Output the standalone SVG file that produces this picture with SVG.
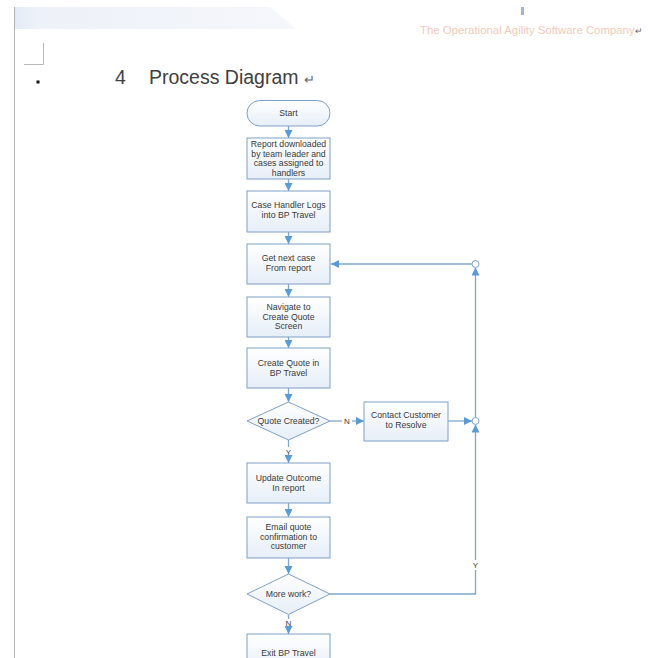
<svg xmlns="http://www.w3.org/2000/svg" width="649" height="658" viewBox="0 0 649 658">
<defs>
<linearGradient id="band" x1="0" y1="0" x2="1" y2="0">
<stop offset="0" stop-color="#e4ebf6"/>
<stop offset="0.08" stop-color="#edf1f8"/>
<stop offset="1" stop-color="#f5f7fb"/>
</linearGradient>
<linearGradient id="boxfill" x1="0" y1="0" x2="0" y2="1">
<stop offset="0" stop-color="#ffffff"/>
<stop offset="1" stop-color="#e6eef8"/>
</linearGradient>
<marker id="arr" viewBox="0 0 10 10" refX="10" refY="5" markerWidth="8" markerHeight="8" markerUnits="userSpaceOnUse" orient="auto">
<path d="M0,0 L10,5 L0,10 z" fill="#5b9bd5"/>
</marker>
<style>
.node{fill:url(#boxfill);stroke:#7f9fc8;stroke-width:1}
.lbl{font-family:"Liberation Sans",Arial,sans-serif;font-size:8.7px;fill:#3a3a3a;text-anchor:middle}
.edge{fill:none;stroke:#7fa6cf;stroke-width:1.3}
.yn{font-family:"Liberation Sans",Arial,sans-serif;font-size:8px;fill:#3a3a3a;text-anchor:middle}
</style>
</defs>
<rect width="649" height="658" fill="#ffffff"/>
<path d="M14,7 L270,7 L296,29 L14,29 z" fill="url(#band)"/>
<line x1="14.5" y1="7" x2="14.5" y2="658" stroke="#b4b4b4" stroke-width="1"/>
<polyline points="43.5,43 43.5,64.5 24,64.5" fill="none" stroke="#b8b8b8" stroke-width="1"/>
<rect x="36.5" y="80.5" width="3" height="3" fill="#111"/>
<rect x="521" y="7" width="3" height="8" fill="#9ab6da"/>
<text x="420" y="34" font-family="Liberation Sans,Arial,sans-serif" font-size="11.4px" fill="#f5c9b8">The Operational Agility Software Company<tspan fill="#666" font-size="9px">↵</tspan></text>
<text x="115" y="84" font-family="Liberation Sans,Arial,sans-serif" font-size="19.5px" fill="#404040">4</text>
<text x="149" y="84" font-family="Liberation Sans,Arial,sans-serif" font-size="19.5px" fill="#404040">Process Diagram <tspan font-size="13px" fill="#666">↵</tspan></text>

<g id="connectors">
<line class="edge" x1="288.5" y1="126" x2="288.5" y2="138" marker-end="url(#arr)"/>
<line class="edge" x1="288.5" y1="179" x2="288.5" y2="191" marker-end="url(#arr)"/>
<line class="edge" x1="288.5" y1="232" x2="288.5" y2="244" marker-end="url(#arr)"/>
<line class="edge" x1="288.5" y1="284" x2="288.5" y2="297" marker-end="url(#arr)"/>
<line class="edge" x1="288.5" y1="337" x2="288.5" y2="348" marker-end="url(#arr)"/>
<line class="edge" x1="288.5" y1="388" x2="288.5" y2="402" marker-end="url(#arr)"/>
<line class="edge" x1="288.5" y1="440" x2="288.5" y2="447"/>
<line class="edge" x1="288.5" y1="456" x2="288.5" y2="463" marker-end="url(#arr)"/>
<line class="edge" x1="288.5" y1="503" x2="288.5" y2="517" marker-end="url(#arr)"/>
<line class="edge" x1="288.5" y1="558" x2="288.5" y2="574" marker-end="url(#arr)"/>
<line class="edge" x1="288.5" y1="615" x2="288.5" y2="619"/>
<line class="edge" x1="288.5" y1="627" x2="288.5" y2="634" marker-end="url(#arr)"/>
<line class="edge" x1="330" y1="421" x2="342" y2="421"/>
<line class="edge" x1="352" y1="421" x2="364" y2="421" marker-end="url(#arr)"/>
<line class="edge" x1="448" y1="421" x2="472" y2="421" marker-end="url(#arr)"/>
<polyline class="edge" points="330,594 475.5,594 475.5,570"/>
<line class="edge" x1="475.5" y1="560" x2="475.5" y2="424.5" marker-end="url(#arr)"/>
<line class="edge" x1="475.5" y1="417.5" x2="475.5" y2="267.5" marker-end="url(#arr)"/>
<line class="edge" x1="472" y1="264" x2="331" y2="264" marker-end="url(#arr)"/>
<circle cx="475.5" cy="264" r="3.5" fill="#fff" stroke="#7fa6cf" stroke-width="1"/>
<circle cx="475.5" cy="421" r="3.5" fill="#fff" stroke="#7fa6cf" stroke-width="1"/>
<text class="yn" x="347" y="424">N</text>
<text class="yn" x="288.5" y="455">Y</text>
<text class="yn" x="475.5" y="568">Y</text>
<text class="yn" x="288.5" y="626">N</text>
</g>

<g id="start">
<rect class="node" x="247" y="100.5" width="83" height="25.5" rx="12.75"/>
<text class="lbl" x="288.5" y="116">Start</text>
</g>
<g id="report">
<rect class="node" x="247" y="138" width="83" height="41"/>
<text class="lbl" x="288.5" y="147">Report downloaded</text>
<text class="lbl" x="288.5" y="156.5">by team leader and</text>
<text class="lbl" x="288.5" y="166">cases assigned to</text>
<text class="lbl" x="288.5" y="175.5">handlers</text>
</g>
<g id="login">
<rect class="node" x="247" y="191" width="83" height="41"/>
<text class="lbl" x="288.5" y="208">Case Handler Logs</text>
<text class="lbl" x="288.5" y="218">into BP Travel</text>
</g>
<g id="nextcase">
<rect class="node" x="247" y="244" width="83" height="40"/>
<text class="lbl" x="288.5" y="261">Get next case</text>
<text class="lbl" x="288.5" y="271">From report</text>
</g>
<g id="navigate">
<rect class="node" x="247" y="297" width="83" height="40"/>
<text class="lbl" x="288.5" y="310">Navigate to</text>
<text class="lbl" x="288.5" y="319.5">Create Quote</text>
<text class="lbl" x="288.5" y="329">Screen</text>
</g>
<g id="createquote">
<rect class="node" x="247" y="348" width="83" height="40"/>
<text class="lbl" x="288.5" y="366">Create Quote in</text>
<text class="lbl" x="288.5" y="376">BP Travel</text>
</g>
<g id="quotecreated">
<polygon class="node" points="288.5,402 330,421 288.5,440 247,421"/>
<text class="lbl" x="288.5" y="424">Quote Created?</text>
</g>
<g id="contact">
<rect class="node" x="364" y="402" width="84" height="39"/>
<text class="lbl" x="406" y="418">Contact Customer</text>
<text class="lbl" x="406" y="428">to Resolve</text>
</g>
<g id="update">
<rect class="node" x="247" y="463" width="83" height="40"/>
<text class="lbl" x="288.5" y="481">Update Outcome</text>
<text class="lbl" x="288.5" y="491">In report</text>
</g>
<g id="email">
<rect class="node" x="247" y="517" width="83" height="41"/>
<text class="lbl" x="288.5" y="530">Email quote</text>
<text class="lbl" x="288.5" y="539.5">confirmation to</text>
<text class="lbl" x="288.5" y="549">customer</text>
</g>
<g id="morework">
<polygon class="node" points="288.5,574 330,594 288.5,614.5 247,594"/>
<text class="lbl" x="288.5" y="597">More work?</text>
</g>
<g id="exit">
<rect class="node" x="247" y="634" width="83" height="40"/>
<text class="lbl" x="288.5" y="656">Exit BP Travel</text>
</g>
</svg>
